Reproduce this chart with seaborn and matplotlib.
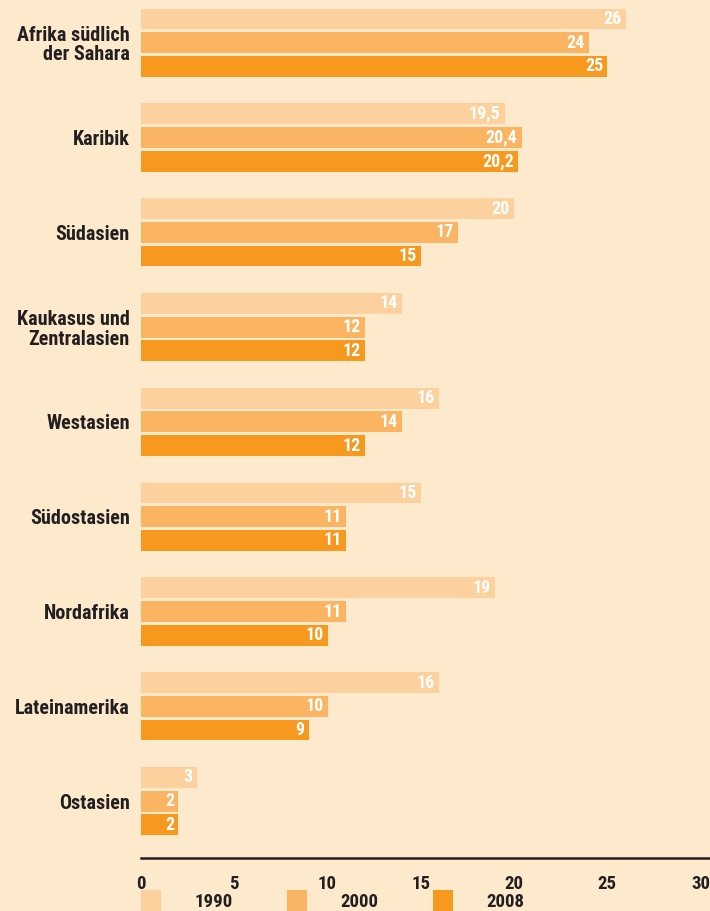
import matplotlib

matplotlib.use("Agg")

import matplotlib.pyplot as plt
import pandas as pd
import seaborn as sns


regions = [
    "Afrika südlich\nder Sahara",
    "Karibik",
    "Südasien",
    "Kaukasus und\nZentralasien",
    "Westasien",
    "Südostasien",
    "Nordafrika",
    "Lateinamerika",
    "Ostasien",
]
years = ["1990", "2000", "2008"]
values_1990 = [26, 19.5, 20, 14, 16, 15, 19, 16, 3]
values_2000 = [24, 20.4, 17, 12, 14, 11, 11, 10, 2]
values_2008 = [25, 20.2, 15, 12, 12, 11, 10, 9, 2]
x_ticks = [0, 5, 10, 15, 20, 25, 30]

BACKGROUND = "#FDE9CB"
TEXT_COLOR = "#231F20"
PALETTE = ["#FCD19E", "#FBB462", "#F7981F"]
FONT = ["Roboto Condensed", "DejaVu Sans"]


def fmt_value(value):
    if float(value).is_integer():
        return f"{int(value)}"
    return f"{value:.1f}".replace(".", ",")


def main() -> None:
    rows = []
    for year, vals in zip(years, [values_1990, values_2000, values_2008]):
        for region, val in zip(regions, vals):
            rows.append({"region": region, "year": year, "value": val})
    df = pd.DataFrame(rows)

    sns.set_style("white")
    plt.rcParams["font.family"] = FONT
    plt.rcParams["font.weight"] = "bold"

    fig = plt.figure(figsize=(7.1, 9.11), dpi=100, facecolor=BACKGROUND)
    ax = fig.add_axes([141 / 710, 53 / 911, 568 / 710, 858 / 911])
    ax.set_facecolor(BACKGROUND)

    sns.barplot(
        data=df,
        y="region",
        x="value",
        hue="year",
        order=regions,
        hue_order=years,
        palette=PALETTE,
        saturation=1,
        orient="h",
        width=0.75,
        gap=0.12,
        linewidth=0,
        ax=ax,
    )

    # value labels inside the bar ends
    for container in ax.containers:
        for bar, val in zip(container.patches, container.datavalues):
            ax.annotate(
                fmt_value(val),
                xy=(val, bar.get_y() + bar.get_height() / 2),
                xytext=(-3, 0),
                textcoords="offset points",
                ha="right",
                va="center",
                color="white",
                fontsize=13,
                fontweight="bold",
            )

    ax.set_xlim(0, 30.45)
    ax.set_ylim(8.6, -0.45)
    ax.set_xticks(x_ticks)
    ax.set_xlabel("")
    ax.set_ylabel("")
    for side in ["top", "right", "left"]:
        ax.spines[side].set_visible(False)
    ax.spines["bottom"].set_color(TEXT_COLOR)
    ax.spines["bottom"].set_linewidth(1.8)
    ax.tick_params(axis="x", length=0, pad=12, labelsize=13.5, labelcolor=TEXT_COLOR)
    ax.tick_params(axis="y", length=0, pad=8, labelsize=14.5, labelcolor=TEXT_COLOR)
    for label in ax.get_yticklabels():
        label.set_horizontalalignment("right")
        label.set_fontweight("bold")
        label.set_multialignment("right")
        label.set_linespacing(1.05)
    for label in ax.get_xticklabels():
        label.set_fontweight("bold")

    handles, labels = ax.get_legend_handles_labels()
    ax.get_legend().remove()
    fig.legend(
        handles,
        labels,
        loc="upper left",
        bbox_to_anchor=(141 / 710, 1 - 890 / 911),
        ncol=3,
        frameon=False,
        handlelength=1.05,
        handleheight=1.4,
        handletextpad=1.8,
        columnspacing=2.9,
        borderaxespad=0,
        borderpad=0,
        prop={"size": 13.5, "weight": "bold"},
        labelcolor=TEXT_COLOR,
    )

    fig.savefig("out.png", dpi=100, facecolor=BACKGROUND)
    plt.close(fig)


if __name__ == "__main__":
    main()
